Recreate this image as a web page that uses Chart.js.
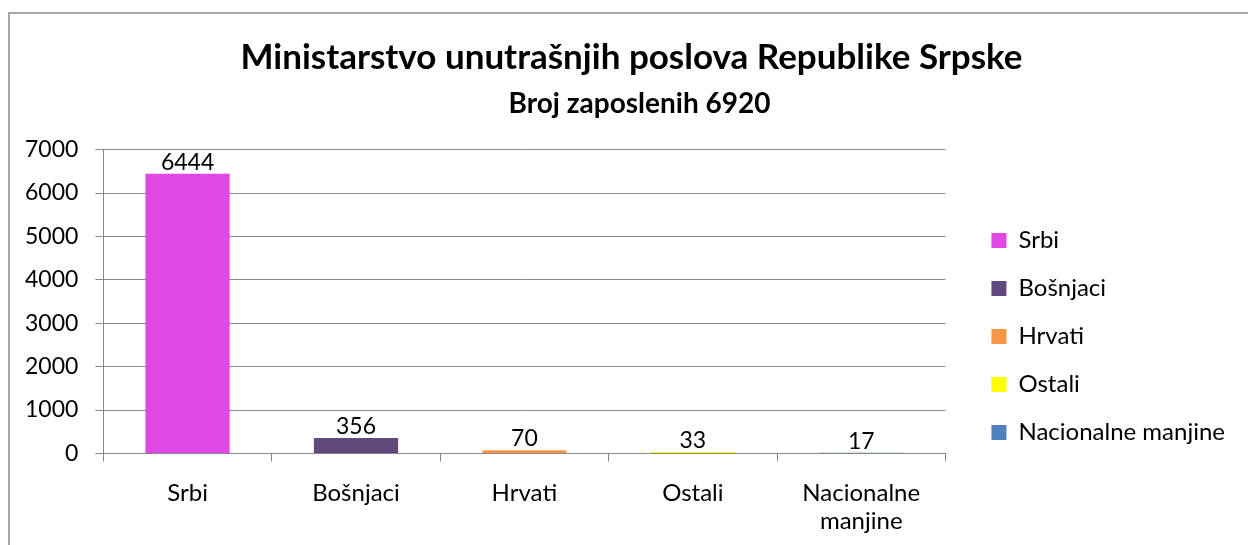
<!DOCTYPE html>
<html>
<head>
<meta charset="utf-8">
<script src="https://cdn.jsdelivr.net/npm/chart.js"></script>
<style>
  html, body { margin: 0; padding: 0; background: #fff; overflow: hidden; }
  #frame { position: absolute; left: 8px; top: 12px; width: 1260px; height: 560px;
           border-left: 2px solid #a6a6a6; border-top: 2px solid #a6a6a6; box-sizing: border-box; }
  #wrap { position: absolute; left: 0; top: 0; width: 1248px; height: 545px; }
</style>
</head>
<body>
<div id="frame"></div>
<div id="wrap"><canvas id="c"></canvas></div>
<script>
const categories = ["Srbi", "Bošnjaci", "Hrvati", "Ostali", ["Nacionalne", "manjine"]];
const legendNames = ["Srbi", "Bošnjaci", "Hrvati", "Ostali", "Nacionalne manjine"];
const employees = [6444, 356, 70, 33, 17];
const barColors = ["#e047e3", "#604a7b", "#f79646", "#ffff00", "#4f81bd"];
const yTicks = [0, 1000, 2000, 3000, 4000, 5000, 6000, 7000];

const TITLE = "Ministarstvo unutrašnjih poslova Republike Srpske";
const SUBTITLE = "Broj zaposlenih 6920";

const FONT = "Lato, 'Open Sans', sans-serif";
const LEGEND_GAP = 22; // extra space between plot and legend

// value labels above each bar
const valueLabels = {
    id: "valueLabels",
    afterDatasetsDraw(chart) {
        const ctx = chart.ctx;
        const meta = chart.getDatasetMeta(0);
        ctx.save();
        ctx.font = "23px " + FONT;
        ctx.fillStyle = "#000";
        ctx.textAlign = "center";
        ctx.textBaseline = "bottom";
        meta.data.forEach((bar, i) => {
            ctx.fillText(String(employees[i]), bar.x, bar.y);
        });
        ctx.restore();
    }
};

// legend box wider on its left side; titles nudged right a bit
const layoutTweaks = {
    id: "layoutTweaks",
    afterInit(chart) {
        const lg = chart.legend;
        const fit = lg.fit;
        lg.fit = function () { fit.call(this); this.width += LEGEND_GAP; };
    },
    afterLayout(chart) {
        chart.legend.left += LEGEND_GAP;
        chart.boxes.forEach(b => {
            if (!b.options || b === chart.legend) return;
            if (b.options.text === TITLE) b.left += 20;
            if (b.options.text === SUBTITLE) b.left += 36;
        });
    }
};

new Chart(document.getElementById("c"), {
    type: "bar",
    data: {
        labels: categories,
        datasets: [{
            data: employees,
            backgroundColor: barColors,
            borderWidth: 0,
            categoryPercentage: 1,
            barPercentage: 0.5
        }]
    },
    options: {
        responsive: true,
        maintainAspectRatio: false,
        animation: false,
        layout: { padding: { left: 8, right: 13, bottom: -8, top: 0 } },
        plugins: {
            title: {
                display: true,
                text: TITLE,
                color: "#000",
                font: { family: FONT, size: 35, weight: "bold", lineHeight: 1.2 },
                padding: { top: 37, bottom: 8 }
            },
            subtitle: {
                display: true,
                text: SUBTITLE,
                color: "#000",
                font: { family: FONT, size: 28, weight: "bold", lineHeight: 1.2 },
                padding: { top: 0, bottom: 29 }
            },
            legend: {
                position: "right",
                title: { display: true, text: " ", font: { size: 10, lineHeight: 1 }, padding: { top: 0, bottom: 110 } },
                labels: {
                    color: "#000",
                    font: { family: FONT, size: 24 },
                    boxWidth: 15,
                    boxHeight: 15,
                    padding: 24,
                    generateLabels: () => legendNames.map((n, i) => ({
                        text: n, fillStyle: barColors[i], strokeStyle: barColors[i],
                        fontColor: "#000", lineWidth: 0, hidden: false, index: i
                    }))
                },
                onClick: () => {}
            },
            tooltip: { enabled: false }
        },
        scales: {
            x: {
                grid: { display: true, drawOnChartArea: false, drawTicks: true, tickLength: 8,
                        offset: true, color: "#868686", lineWidth: 1 },
                border: { color: "#868686", width: 1 },
                ticks: { color: "#000", font: { family: FONT, size: 24, lineHeight: 1.2 }, padding: 17,
                         maxRotation: 0, autoSkip: false }
            },
            y: {
                min: 0,
                max: 7000,
                afterBuildTicks: axis => { axis.ticks = yTicks.map(v => ({ value: v })); },
                grid: { color: "#868686", lineWidth: 1, tickLength: 8 },
                border: { color: "#868686", width: 1 },
                ticks: { color: "#000", font: { family: FONT, size: 23 }, padding: 17, callback: v => String(v) }
            }
        }
    },
    plugins: [valueLabels, layoutTweaks]
});
</script>
</body>
</html>
